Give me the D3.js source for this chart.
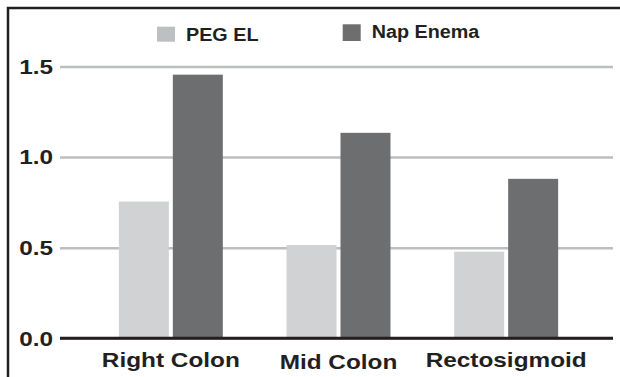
<!DOCTYPE html>
<html>
<head>
<meta charset="utf-8">
<script src="https://cdn.jsdelivr.net/npm/d3@7"></script>
<style>
  body { margin: 0; background: #fff; }
  svg { display: block; font-family: "Liberation Sans", Arial, sans-serif; font-weight: bold; }
</style>
</head>
<body>
<script>
// data
const categories = ["Right Colon", "Mid Colon", "Rectosigmoid"];
const series = ["PEG EL", "Nap Enema"];
const pegValues = [0.755, 0.515, 0.478];
const napValues = [1.455, 1.134, 0.88];
const yTicks = [0, 0.5, 1.0, 1.5];

const barColors = ["#d1d2d4", "#6d6e70"];
const keyColors = ["#bebfc1", "#6d6e70"];
const ink = "#231f20";
const stretch = 1.16;   // the type in the original is a little wide

let width = 620, height = 377;
let plot = {left: 60, right: 613, top: 66.5, bottom: 338.3};

let svg = d3.select("body")
            .append("svg")
            .attr("width", width)
            .attr("height", height);

let data = categories.map((c, i) => ({cat: c, values: [pegValues[i], napValues[i]]}));

let xScale = d3.scaleBand()
    .domain(categories)
    .range([87, 590])
    .paddingInner(0.38)
    .paddingOuter(0.19);

let xInner = d3.scaleBand()
    .domain(series)
    .range([0, xScale.bandwidth()])
    .paddingInner(0.074);

let yScale = d3.scaleLinear()
    .domain([0, 1.5])
    .range([plot.bottom, plot.top]);

// frame (top and left only)
svg.append("path")
    .attr("d", `M8,${height} L8,8 L${width},8`)
    .attr("fill", "none")
    .attr("stroke", ink)
    .attr("stroke-width", 2.5);

// gridlines + tick labels
let yAxis = d3.axisLeft(yScale)
    .tickValues(yTicks)
    .tickFormat(d3.format(".1f"))
    .tickSize(-(plot.right - plot.left))
    .tickPadding(6);

let gy = svg.append("g")
    .attr("transform", `translate(${plot.left},0)`)
    .call(yAxis);

gy.select(".domain").remove();
gy.selectAll(".tick line")
    .attr("stroke", "#bcbec0")
    .attr("stroke-width", 2.5);
gy.selectAll(".tick text")
    .attr("fill", ink)
    .style("font-size", "21px")
    .attr("transform", `scale(${stretch},1)`);

// bars
let groups = svg.selectAll(".group")
    .data(data)
    .enter()
    .append("g")
      .attr("transform", d => `translate(${xScale(d.cat)},0)`);

groups.selectAll("rect")
    .data(d => d.values.map((v, i) => ({s: series[i], v: v, i: i})))
    .enter()
    .append("rect")
      .attr("x", d => xInner(d.s))
      .attr("width", xInner.bandwidth())
      .attr("y", d => yScale(d.v))
      .attr("height", d => plot.bottom - yScale(d.v))
      .attr("fill", d => barColors[d.i]);

// baseline
svg.append("line")
    .attr("x1", plot.left)
    .attr("x2", plot.right)
    .attr("y1", yScale(0))
    .attr("y2", yScale(0))
    .attr("stroke", ink)
    .attr("stroke-width", 3);

// category labels
svg.selectAll(".cat")
    .data(categories)
    .enter()
    .append("text")
      .attr("transform", (d, i) => `translate(${xScale(d) + xScale.bandwidth() / 2},${366.7 + (i === 1 ? 2.6 : 0)}) scale(${stretch},1)`)
      .attr("text-anchor", "middle")
      .attr("fill", ink)
      .style("font-size", "21px")
      .text(d => d);

// legend
let legendPos = [{x: 157, y: 26.7, h: 15, ty: 41}, {x: 342.7, y: 24.3, h: 16.7, ty: 38.3}];

let legend = svg.selectAll(".key")
    .data(series)
    .enter()
    .append("g");

legend.append("rect")
    .attr("x", (d, i) => legendPos[i].x)
    .attr("y", (d, i) => legendPos[i].y)
    .attr("width", 18)
    .attr("height", (d, i) => legendPos[i].h)
    .attr("fill", (d, i) => keyColors[i]);

legend.append("text")
    .attr("transform", (d, i) => `translate(${legendPos[i].x + 29},${legendPos[i].ty}) scale(1.13,1)`)
    .attr("fill", ink)
    .style("font-size", "17.5px")
    .text(d => d);
</script>
</body>
</html>
